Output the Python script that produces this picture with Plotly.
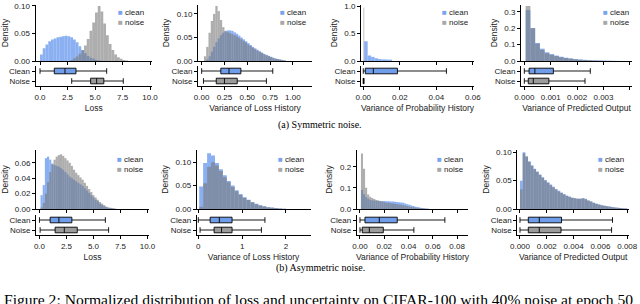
import plotly.graph_objects as go

W, H = 640, 304

# ----------------------------- DATA -----------------------------
# (a) Symmetric noise
sym_loss_bins = (0.0, 0.25)            # (first bin left edge, bin width)
sym_loss_clean = [0.012, 0.023, 0.030, 0.036, 0.039, 0.041, 0.043, 0.044, 0.045, 0.046,
                  0.045, 0.043, 0.039, 0.034, 0.027, 0.020, 0.014, 0.009, 0.006, 0.004,
                  0.002, 0.001, 0.0005, 0, 0, 0, 0, 0, 0, 0, 0, 0]
sym_loss_noise = [0, 0, 0, 0, 0, 0, 0, 0, 0, 0,
                  0, 0.002, 0.005, 0.008, 0.013, 0.019, 0.028, 0.040, 0.055, 0.070,
                  0.088, 0.100, 0.090, 0.068, 0.047, 0.031, 0.020, 0.012, 0.007, 0.004,
                  0.002, 0.001]
sym_loss_box_clean = [0.0, 1.3, 2.27, 3.27, 6.06]   # lower fence, q1, median, q3, upper fence
sym_loss_box_noise = [2.88, 4.6, 5.15, 5.8, 7.57]

sym_vlh_bins = (0.025, 0.025)
sym_vlh_clean = [0.0, 0.003, 0.010, 0.020, 0.030, 0.040, 0.048, 0.055, 0.060, 0.063,
                 0.065, 0.065, 0.064, 0.061, 0.058, 0.054, 0.050, 0.046, 0.042, 0.038,
                 0.034, 0.030, 0.027, 0.024, 0.021, 0.018, 0.015, 0.013, 0.011, 0.009,
                 0.007, 0.005, 0.004, 0.003, 0.002, 0.001]
sym_vlh_noise = [0.010, 0.030, 0.060, 0.085, 0.100, 0.117, 0.106, 0.087, 0.072, 0.064,
                 0.061, 0.059, 0.057, 0.055, 0.052, 0.049, 0.046, 0.042, 0.039, 0.035,
                 0.032, 0.028, 0.025, 0.022, 0.019, 0.017, 0.014, 0.012, 0.010, 0.008,
                 0.006, 0.005, 0.004, 0.003, 0.002, 0.001]
sym_vlh_box_clean = [0.0, 0.21, 0.30, 0.43, 0.78]
sym_vlh_box_noise = [0.02, 0.16, 0.25, 0.39, 0.71]

sym_vph_clean_bins = (0.0005, 0.0019)
sym_vph_clean = [0.36, 0.10, 0.075, 0.05, 0.035, 0.03, 0.028, 0.025]
sym_vph_noise_bins = (0.0001, 0.0004)
sym_vph_noise = [0.97]
sym_vph_box_clean = [0.0, 0.0011, 0.0055, 0.0187, 0.0455]
sym_vph_box_noise = [0.0, 0.00005, 0.0001, 0.0002, 0.0004]

sym_vpo_bins = (0.00005, 0.00018)
sym_vpo_clean = [0.31, 0.20, 0.11, 0.075, 0.053, 0.042, 0.033, 0.026, 0.020, 0.016,
                 0.012, 0.009, 0.007, 0.005, 0.004, 0.003, 0.002, 0.0015, 0.001, 0.0005]
sym_vpo_noise = [0.335, 0.20, 0.105, 0.068, 0.048, 0.038, 0.030, 0.023, 0.018, 0.014,
                 0.010, 0.008, 0.006, 0.004, 0.003, 0.002, 0.0015, 0.001, 0.0005, 0.0003]
sym_vpo_box_clean = [0.0, 0.00018, 0.0004, 0.0011, 0.0025]
sym_vpo_box_noise = [0.0, 0.00015, 0.00034, 0.00093, 0.0023]

# (b) Asymmetric noise
asym_loss_bins = (0.1, 0.2)
asym_loss_clean = [0.018, 0.031, 0.066, 0.068, 0.064, 0.059, 0.057, 0.056, 0.055, 0.053,
                   0.051, 0.048, 0.045, 0.042, 0.040, 0.038, 0.036, 0.034, 0.032, 0.030,
                   0.027, 0.024, 0.021, 0.018, 0.015, 0.012, 0.010, 0.007, 0.005, 0.0035,
                   0.0025, 0.0015, 0.001, 0.0006, 0.0003]
asym_loss_noise = [0.002, 0.008, 0.020, 0.035, 0.048, 0.058, 0.064, 0.068, 0.070, 0.071,
                   0.069, 0.066, 0.063, 0.060, 0.056, 0.051, 0.047, 0.044, 0.041, 0.038,
                   0.034, 0.030, 0.026, 0.022, 0.018, 0.015, 0.012, 0.009, 0.007, 0.005,
                   0.003, 0.002, 0.0015, 0.001, 0.0005]
asym_loss_box_clean = [0.0, 0.99, 1.8, 3.0, 6.1]
asym_loss_box_noise = [0.06, 1.45, 2.3, 3.5, 6.4]

asym_vlh_bins = (0.02, 0.09)
asym_vlh_clean = [0.048, 0.098, 0.119, 0.114, 0.098, 0.085, 0.072, 0.060, 0.050, 0.040,
                  0.032, 0.025, 0.020, 0.015, 0.011, 0.008, 0.006, 0.004, 0.003, 0.002,
                  0.001, 0.0008]
asym_vlh_noise = [0.005, 0.055, 0.090, 0.100, 0.093, 0.081, 0.068, 0.057, 0.047, 0.038,
                  0.030, 0.024, 0.019, 0.014, 0.010, 0.0075, 0.0055, 0.0038, 0.0027, 0.0018,
                  0.001, 0.0006]
asym_vlh_box_clean = [0.0, 0.27, 0.48, 0.77, 1.52]
asym_vlh_box_noise = [0.04, 0.36, 0.53, 0.77, 1.44]

asym_vph_bins = (0.0008, 0.0017)
asym_vph_clean = [0.090, 0.070, 0.055, 0.048, 0.044, 0.041, 0.040, 0.039, 0.038, 0.038,
                  0.038, 0.038, 0.037, 0.037, 0.036, 0.035, 0.034, 0.033, 0.032, 0.031,
                  0.029, 0.026, 0.023, 0.020, 0.017, 0.014, 0.011, 0.009, 0.007, 0.005,
                  0.003, 0.002, 0.001, 0.0005]
asym_vph_noise = [0.263, 0.190, 0.100, 0.068, 0.058, 0.052, 0.047, 0.043, 0.040, 0.037,
                  0.034, 0.032, 0.030, 0.029, 0.027, 0.026, 0.024, 0.023, 0.021, 0.020,
                  0.018, 0.016, 0.014, 0.012, 0.010, 0.008, 0.006, 0.005, 0.004, 0.003,
                  0.002, 0.0015, 0.001, 0.0005]
asym_vph_box_clean = [0.0, 0.0041, 0.0159, 0.0307, 0.0699]
asym_vph_box_noise = [0.0, 0.0019, 0.0077, 0.0192, 0.0444]

asym_vpo_bins = (0.0, 0.0002)
asym_vpo_clean = [0.050, 0.100, 0.092, 0.084, 0.077, 0.071, 0.066, 0.061, 0.056, 0.051,
                  0.047, 0.043, 0.039, 0.035, 0.032, 0.029, 0.026, 0.024, 0.022, 0.020,
                  0.019, 0.018, 0.018, 0.019, 0.018, 0.015, 0.013, 0.011, 0.0095, 0.008,
                  0.0068, 0.0058, 0.005, 0.0042, 0.0035, 0.0028, 0.0022, 0.0017, 0.0012, 0.0008]
asym_vpo_noise = [0.035, 0.098, 0.093, 0.083, 0.076, 0.070, 0.065, 0.060, 0.055, 0.050,
                  0.046, 0.042, 0.038, 0.035, 0.031, 0.028, 0.026, 0.023, 0.021, 0.020,
                  0.019, 0.018, 0.018, 0.019, 0.017, 0.015, 0.013, 0.011, 0.009, 0.0078,
                  0.0066, 0.0056, 0.0048, 0.004, 0.0033, 0.0027, 0.0021, 0.0016, 0.0011, 0.0007]
asym_vpo_box_clean = [0.0, 0.00062, 0.00144, 0.0031, 0.0069]
asym_vpo_box_noise = [0.0, 0.00062, 0.00144, 0.00306, 0.00683]

box_categories = ["Clean", "Noise"]
legend_labels = ["clean", "noise"]
subcaptions = ["(a) Symmetric noise.", "(b) Asymmetric noise."]
caption = "Figure 2: Normalized distribution of loss and uncertainty on CIFAR-100 with 40% noise at epoch 50"

# ----------------------------- STYLE -----------------------------
CLEAN_BAR = "rgba(100,149,237,0.75)"
NOISE_BAR = "rgba(120,120,120,0.60)"
CLEAN_BOX = "#6f9de9"
NOISE_BOX = "#9b9b9b"
CLEAN_LEG = "#78a4ee"
NOISE_LEG = "#a8a8a8"
SANS = "Liberation Sans, Arial, sans-serif"
SERIF = "Liberation Serif, Times New Roman, serif"
TXT = "#222222"

panels = [
    dict(xpx=(35.5, 152), hy=(5, 61), by=(66, 86), xr=(-0.41, 10.18), yr=(0, 0.1018),
         ydt=0.05, yfmt=".2f", xdt=2.5, xfmt=".1f", title="Loss",
         cb=sym_loss_bins, c=sym_loss_clean, nb=sym_loss_bins, n=sym_loss_noise,
         bc=sym_loss_box_clean, bn=sym_loss_box_noise, leg=(119, 13, 22)),
    dict(xpx=(198, 312), hy=(5, 61), by=(66, 86), xr=(-0.04, 1.21), yr=(0, 0.119),
         ydt=0.05, yfmt=".2f", xdt=0.25, xfmt=".2f", title="Variance of Loss History",
         cb=sym_vlh_bins, c=sym_vlh_clean, nb=sym_vlh_bins, n=sym_vlh_noise,
         bc=sym_vlh_box_clean, bn=sym_vlh_box_noise, leg=(280.7, 13, 22)),
    dict(xpx=(361, 474), hy=(5, 61), by=(66, 86), xr=(-0.00125, 0.0606), yr=(0, 1.02),
         ydt=0.5, yfmt=".1f", xdt=0.02, xfmt=".2f", title="Variance of Probability History",
         cb=sym_vph_clean_bins, c=sym_vph_clean, nb=sym_vph_noise_bins, n=sym_vph_noise,
         bc=sym_vph_box_clean, bn=sym_vph_box_noise, leg=(442.7, 13, 22)),
    dict(xpx=(521, 632), hy=(5, 61), by=(66, 86), xr=(-0.000126, 0.00408), yr=(0, 0.341),
         ydt=0.1, yfmt=".1f", xdt=0.001, xfmt=".3f", title="Variance of Predicted Output",
         cb=sym_vpo_bins, c=sym_vpo_clean, nb=sym_vpo_bins, n=sym_vpo_noise,
         bc=sym_vpo_box_clean, bn=sym_vpo_box_noise, leg=(604, 13, 22)),
    dict(xpx=(36, 149), hy=(150, 209), by=(215, 235), xr=(-0.32, 10.14), yr=(0, 0.0766),
         ydt=0.02, yfmt=".2f", xdt=2.5, xfmt=".1f", title="Loss",
         cb=asym_loss_bins, c=asym_loss_clean, nb=asym_loss_bins, n=asym_loss_noise,
         bc=asym_loss_box_clean, bn=asym_loss_box_noise, leg=(118.3, 159, 169.3)),
    dict(xpx=(196.7, 310.5), hy=(150, 209), by=(215, 235), xr=(-0.037, 2.56), yr=(0, 0.126),
         ydt=0.05, yfmt=".2f", xdt=1, xfmt="d", title="Variance of Loss History",
         cb=asym_vlh_bins, c=asym_vlh_clean, nb=asym_vlh_bins, n=asym_vlh_noise,
         bc=asym_vlh_box_clean, bn=asym_vlh_box_noise, leg=(279, 159, 169.3)),
    dict(xpx=(356.7, 468.3), hy=(150, 209), by=(215, 235), xr=(-0.0027, 0.0892), yr=(0, 0.279),
         ydt=0.1, yfmt=".1f", xdt=0.02, xfmt=".2f", title="Variance of Probability History",
         cb=asym_vph_bins, c=asym_vph_clean, nb=asym_vph_bins, n=asym_vph_noise,
         bc=asym_vph_box_clean, bn=asym_vph_box_noise, leg=(438.3, 159, 169.3)),
    dict(xpx=(517.3, 629), hy=(150, 209), by=(215, 235), xr=(-0.0002, 0.00813), yr=(0, 0.104),
         ydt=0.05, yfmt=".2f", xdt=0.002, xfmt=".3f", title="Variance of Predicted Output",
         cb=asym_vpo_bins, c=asym_vpo_clean, nb=asym_vpo_bins, n=asym_vpo_noise,
         bc=asym_vpo_box_clean, bn=asym_vpo_box_noise, leg=(599, 159, 169.3)),
]


def px_x(a, b):
    return [a / W, b / W]


def px_y(top, bottom):
    return [1 - bottom / H, 1 - top / H]


def centers(bins, n):
    start, w = bins
    return [start + w * (i + 0.5) for i in range(n)], w


fig = go.Figure()
layout = {}
annotations = []

for k, p in enumerate(panels):
    hi, bi = 2 * k + 1, 2 * k + 2
    hx, hy_ = ("x" if hi == 1 else f"x{hi}"), ("y" if hi == 1 else f"y{hi}")
    bx, by_ = f"x{bi}", f"y{bi}"

    xc, wc = centers(p["cb"], len(p["c"]))
    fig.add_trace(go.Bar(x=xc, y=p["c"], width=wc, marker=dict(color=CLEAN_BAR, line=dict(width=0)),
                         xaxis=hx, yaxis=hy_, showlegend=False, hoverinfo="skip"))
    xn, wn = centers(p["nb"], len(p["n"]))
    fig.add_trace(go.Bar(x=xn, y=p["n"], width=wn, marker=dict(color=NOISE_BAR, line=dict(width=0)),
                         xaxis=hx, yaxis=hy_, showlegend=False, hoverinfo="skip"))

    for cat, stats, col in ((box_categories[0], p["bc"], CLEAN_BOX), (box_categories[1], p["bn"], NOISE_BOX)):
        fig.add_trace(go.Box(orientation="h", y=[cat], lowerfence=[stats[0]], q1=[stats[1]],
                             median=[stats[2]], q3=[stats[3]], upperfence=[stats[4]],
                             fillcolor=col, line=dict(color="black", width=0.9), width=0.56,
                             whiskerwidth=1, boxpoints=False, xaxis=bx, yaxis=by_,
                             showlegend=False, hoverinfo="skip"))

    common_x = dict(domain=px_x(*p["xpx"]), range=list(p["xr"]), showline=True, linecolor="black",
                    linewidth=1, ticks="outside", ticklen=3, tickwidth=1, tickcolor="black",
                    tick0=0, dtick=p["xdt"], showgrid=False, zeroline=False)
    layout["xaxis" if hi == 1 else f"xaxis{hi}"] = dict(common_x, anchor=hy_, showticklabels=False)
    layout[f"xaxis{bi}"] = dict(common_x, anchor=by_, showticklabels=True, tickformat=p["xfmt"],
                                tickfont=dict(size=8, color=TXT, family=SANS),
                                title=dict(text=p["title"], font=dict(size=8.5, color=TXT, family=SANS),
                                           standoff=4))
    layout["yaxis" if hi == 1 else f"yaxis{hi}"] = dict(
        domain=px_y(*p["hy"]), range=list(p["yr"]), anchor=hx, showline=True, linecolor="black",
        linewidth=1, ticks="outside", ticklen=3, tickwidth=1, tickcolor="black", tick0=0,
        dtick=p["ydt"], tickformat=p["yfmt"], showgrid=False, zeroline=False,
        tickfont=dict(size=8, color=TXT, family=SANS),
        title=dict(text="Density", font=dict(size=8.5, color=TXT, family=SANS), standoff=5))
    layout[f"yaxis{bi}"] = dict(
        domain=px_y(*p["by"]), type="category", categoryorder="array", categoryarray=box_categories,
        tickmode="array", tickvals=box_categories, ticktext=box_categories,
        range=[1.5, -0.5], anchor=bx, showline=True, linecolor="black", linewidth=1,
        ticks="outside", ticklen=3, tickwidth=1, tickcolor="black", showgrid=False, zeroline=False,
        tickfont=dict(size=8, color=TXT, family=SANS))

    lx, ly1, ly2 = p["leg"]
    for lab, col, ly in ((legend_labels[0], CLEAN_LEG, ly1), (legend_labels[1], NOISE_LEG, ly2)):
        annotations.append(dict(
            text=f'<span style="color:{col}">■</span> {lab}', xref="paper", yref="paper",
            x=(lx - 3) / W, y=1 - ly / H, xanchor="left", yanchor="middle", showarrow=False,
            font=dict(size=8, color=TXT, family=SANS)))

annotations.append(dict(text=subcaptions[0], xref="paper", yref="paper", x=0.5, y=1 - 125 / H,
                        xanchor="center", yanchor="middle", showarrow=False,
                        font=dict(size=10, color="black", family=SERIF)))
annotations.append(dict(text=subcaptions[1], xref="paper", yref="paper", x=0.5, y=1 - 268 / H,
                        xanchor="center", yanchor="middle", showarrow=False,
                        font=dict(size=10, color="black", family=SERIF)))
annotations.append(dict(text=caption, xref="paper", yref="paper", x=2 / W, y=1 - 299 / H,
                        xanchor="left", yanchor="middle", showarrow=False,
                        font=dict(size=15.6, color="black", family=SERIF)))

fig.update_layout(width=W, height=H, margin=dict(l=0, r=0, t=0, b=0), barmode="overlay",
                  paper_bgcolor="white", plot_bgcolor="white", template="none",
                  font=dict(family=SANS, size=8, color=TXT), annotations=annotations,
                  showlegend=False, **layout)

fig.write_html("out.html", config={"displayModeBar": False, "staticPlot": True},
               post_script="document.body.style.margin='0px';document.body.style.overflow='hidden';")
